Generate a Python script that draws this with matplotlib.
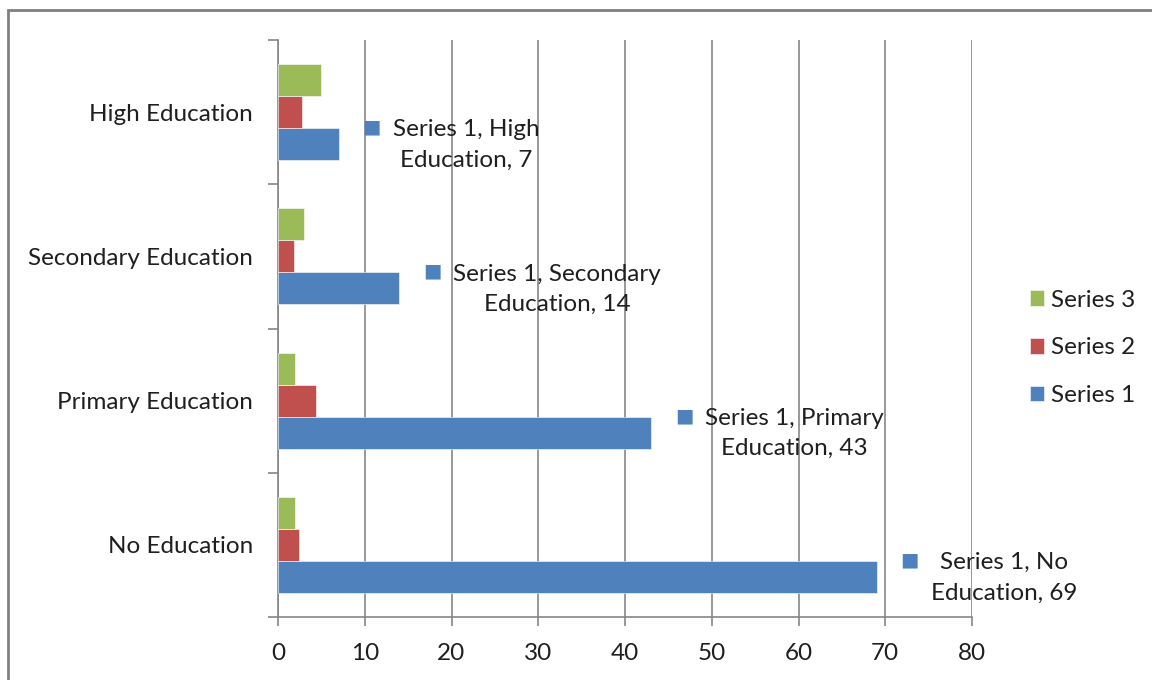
import matplotlib.pyplot as plt
import matplotlib.patches as mpatches
import numpy as np

plt.rcParams['font.family'] = ['Lato', 'DejaVu Sans']

categories = ["No Education", "Primary Education", "Secondary Education", "High Education"]
series_names = ["Series 1", "Series 2", "Series 3"]
series1 = [69, 43, 14, 7]
series2 = [2.4, 4.4, 1.8, 2.8]
series3 = [2.0, 2.0, 3.0, 5.0]
colors = ["#4F81BD", "#C0504D", "#9BBB59"]
TXT = "#1f1f1f"
GRID = "#868686"
FS = 17.5

fig = plt.figure(figsize=(11.52, 6.8), dpi=100)
ax = fig.add_axes([278/1152, 63/680, 694/1152, 577/680])

y = np.arange(len(categories))
h = 0.222
for vals, off, c, name in zip([series1, series2, series3], [-h, 0, h], colors, series_names):
    ax.barh(y + off, vals, height=h, color=c, edgecolor="white", linewidth=0.4, label=name, zorder=3)

# data labels for series 1
for yi, v, cat in zip(y, series1, categories):
    ax.annotate("\u25A0", xy=(v, yi - h), xytext=(33, 17), textcoords="offset pixels",
                ha="center", va="center", color=colors[0], fontsize=14, family="DejaVu Sans")
    ax.annotate(f"Series 1, {cat.split()[0]}\nEducation, {v}", xy=(v, yi - h), xytext=(54, -1),
                textcoords="offset pixels", ha="left", va="center", multialignment="center",
                color=TXT, fontsize=FS, linespacing=1.55)

ax.set_xlim(0, 80)
ax.set_ylim(-0.5, 3.5)
ax.set_xticks(range(0, 81, 10))
ax.set_yticks(y)
ax.set_yticklabels(categories)
ax.set_yticks(np.arange(-0.5, 3.6, 1), minor=True)
ax.tick_params(axis="y", which="major", length=0, pad=18, labelsize=FS, labelcolor=TXT)
ax.tick_params(axis="y", which="minor", length=7, width=1.2, color=GRID, direction="out")
ax.tick_params(axis="x", length=6.5, width=1.2, color=GRID, pad=12, labelsize=FS, labelcolor=TXT)
ax.grid(axis="x", color=GRID, linewidth=1.2, zorder=0)
for s in ["top", "right"]:
    ax.spines[s].set_visible(False)
for s in ["left", "bottom"]:
    ax.spines[s].set_color(GRID)
    ax.spines[s].set_linewidth(1.2)

handles, labels = ax.get_legend_handles_labels()
fig.legend(handles[::-1], labels[::-1], loc="center left", bbox_to_anchor=(1008/1152, 1 - 348/680),
           frameon=False, fontsize=FS, handlelength=0.6, handleheight=0.6, handletextpad=0.25,
           labelspacing=1.1, labelcolor=TXT)

fig.patches.append(mpatches.Rectangle((8/1152, -0.1), 2, 1.1 - 10/680, transform=fig.transFigure,
                                      fill=False, edgecolor="#808080", linewidth=2))

fig.savefig("out.png", dpi=100)
